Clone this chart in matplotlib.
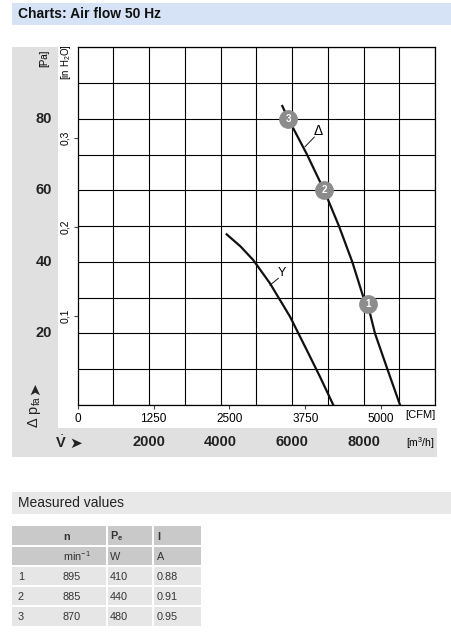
import numpy as np
import matplotlib
matplotlib.use("Agg")
import matplotlib.pyplot as plt
from matplotlib.patches import Rectangle
import matplotlib.transforms as mtransforms

plt.rcParams['font.family'] = ['Liberation Sans', 'DejaVu Sans']
plt.rcParams['mathtext.fontset'] = 'custom'
plt.rcParams['mathtext.rm'] = 'Liberation Sans'
plt.rcParams['mathtext.bf'] = 'Liberation Sans:bold'
plt.rcParams['mathtext.it'] = 'Liberation Sans:italic'

# curve data: air flow [m3/h] vs static pressure [Pa]
delta_flow = [5726, 5894, 6409, 6893, 7313, 7685, 7993, 8116, 8321, 8665, 9021]
delta_pa = [83.6, 80.0, 70.2, 60.1, 50.0, 40.0, 30.2, 28.2, 20.0, 10.1, 0.0]
star_flow = [4170, 4560, 4915, 5382, 5942, 6409, 6781, 7154]
star_pa = [47.7, 44.3, 40.5, 34.0, 24.7, 15.4, 7.9, 0.0]

# operating points
op_labels = ["1", "2", "3"]
op_flow = [8116, 6893, 5894]
op_pa = [28.2, 60.1, 80.0]

# axes labels
pa_ticks = [20, 40, 60, 80]
m3h_ticks = [2000, 4000, 6000, 8000]
cfm_ticks = [0, 1250, 2500, 3750, 5000]
inh2o_ticks = [0.1, 0.2, 0.3]
CFM_TO_M3H = 1.699
INH2O_TO_PA = 249.09

# table
tab_head = ["", "n", "P$_\\mathbf{e}$", "I"]
tab_units = ["", "min$^{-1}$", "W", "A"]
tab_rows = ["1", "2", "3"]
tab_n = [895, 885, 870]
tab_pe = [410, 440, 480]
tab_i = [0.88, 0.91, 0.95]

W, H = 452, 635
fig = plt.figure(figsize=(W / 100, H / 100), dpi=100)


def fx(x):
    return x / W


def fy(y):
    return 1 - y / H


def box(x0, y0, x1, y1, color, z=0):
    fig.add_artist(Rectangle((fx(x0), fy(y1)), (x1 - x0) / W, (y1 - y0) / H,
                             transform=fig.transFigure, facecolor=color,
                             edgecolor='none', zorder=z))


def ftext(x, y, s, **kw):
    fig.text(fx(x), fy(y), s, **kw)


# header bands
box(12, 3, 452, 25, '#d6e3f7')
ftext(18, 14.5, "Charts: Air flow 50 Hz", fontsize=10, fontweight='bold', va='center', color='#111111')
box(12, 47, 58, 457, '#e0e0e0')
box(12, 428, 437, 457, '#e0e0e0')

# main chart
ax = fig.add_axes([fx(77.7), fy(405), 357.3 / W, 357.7 / H])
ax.set_xlim(0, 10000)
ax.set_ylim(0, 100)
ax.set_xticks(np.arange(0, 10001, 1000), minor=True)
ax.set_yticks(np.arange(0, 101, 10), minor=True)
ax.grid(which='minor', color='black', lw=0.8)
ax.tick_params(which='minor', length=0)
for s in ax.spines.values():
    s.set_color('black')
    s.set_linewidth(0.9)

ax.set_xticks([c * CFM_TO_M3H for c in cfm_ticks])
ax.set_xticklabels([str(c) for c in cfm_ticks], fontsize=8.5)
ax.set_yticks([v * INH2O_TO_PA for v in inh2o_ticks])
ax.set_yticklabels([str(v).replace('.', ',') for v in inh2o_ticks], fontsize=7.5, rotation=90, va='center')
ax.tick_params(which='major', length=3, width=0.8, color='#444444', pad=2.5)

ax.plot(delta_flow, delta_pa, color='#111111', lw=1.6, zorder=3)
ax.plot(star_flow, star_pa, color='#111111', lw=1.6, zorder=3)
ax.plot(op_flow, op_pa, 'o', ms=12.5, color='#8c8c8c', zorder=4, clip_on=False)
for lab, xf, yp in zip(op_labels, op_flow, op_pa):
    ax.text(xf, yp, lab, color='white', fontsize=7, fontweight='bold', ha='center', va='center', zorder=5)

ax.plot([6362, 6622], [72.2, 74.9], color='#111111', lw=0.7)
ax.text(6730, 76.6, "Δ", fontsize=10, ha='center', va='center')
ax.plot([5382, 5614], [33.5, 35.4], color='#111111', lw=0.7)
ax.text(5709, 36.8, "Y", fontsize=9, ha='center', va='center')

# Pa labels inside left band
ytr = mtransforms.blended_transform_factory(ax.transAxes, ax.transData)
for v in pa_ticks:
    ax.text(-0.094, v, str(v), transform=ytr, fontsize=10.5, fontweight='bold', ha='center', va='center', color='#222222')
# m3/h labels in bottom band
xtr = mtransforms.blended_transform_factory(ax.transData, ax.transAxes)
for v in m3h_ticks:
    ax.text(v, -0.1034, str(v), transform=xtr, fontsize=10.5, fontweight='bold', ha='center', va='center', color='#222222')

ftext(420, 415, "[CFM]", fontsize=8, ha='center', va='center')
ftext(420, 443, "[m$^3$/h]", fontsize=7.5, ha='center', va='center')
ftext(44, 58, "[Pa]", fontsize=7, rotation=90, ha='center', va='center')
ftext(66, 62, "[in H$_2$O]", fontsize=7, rotation=90, ha='center', va='center')
ftext(35, 412, "$\\Delta\\ \\mathrm{p}_{\\mathrm{fa}}$", fontsize=10.5, rotation=90, ha='center', va='center', color='#222222')
ftext(35, 389, "➤", fontsize=11, rotation=90, ha='center', va='center', family='DejaVu Sans', color='#222222')
ftext(61, 443, "$\\dot{\\mathbf{V}}$", fontsize=10.5, ha='center', va='center', color='#222222')
ftext(76, 443, "➤", fontsize=11, ha='center', va='center', family='DejaVu Sans', color='#222222')

# measured values table
box(12, 492, 452, 514, '#e8e8e8')
ftext(18, 503, "Measured values", fontsize=10, va='center', color='#222222')

row_y = [526, 546, 566, 586, 606, 626]
col_x = [12, 60, 107, 153, 201]
text_x = [18, 63, 110, 157]
cells = [tab_head, tab_units]
for r, n, pe, i in zip(tab_rows, tab_n, tab_pe, tab_i):
    cells.append([r, str(n), str(pe), f"{i:.2f}"])
for k, row in enumerate(cells):
    shade = '#c9c9c9' if k < 2 else '#e6e6e6'
    box(col_x[0], row_y[k], col_x[-1], row_y[k + 1], shade)
    for c, s in enumerate(row):
        ftext(text_x[c], (row_y[k] + row_y[k + 1]) / 2 + 0.5, s, fontsize=7.8,
              fontweight='bold' if k == 0 else 'normal', va='center', color='#333333')
for y in row_y[1:-1]:
    box(col_x[0], y - 0.6, col_x[-1], y + 0.6, 'white', z=1)
for x in col_x[2:-1]:
    box(x - 0.6, row_y[0], x + 0.6, row_y[-1], 'white', z=1)

fig.savefig("out.png", dpi=100)
